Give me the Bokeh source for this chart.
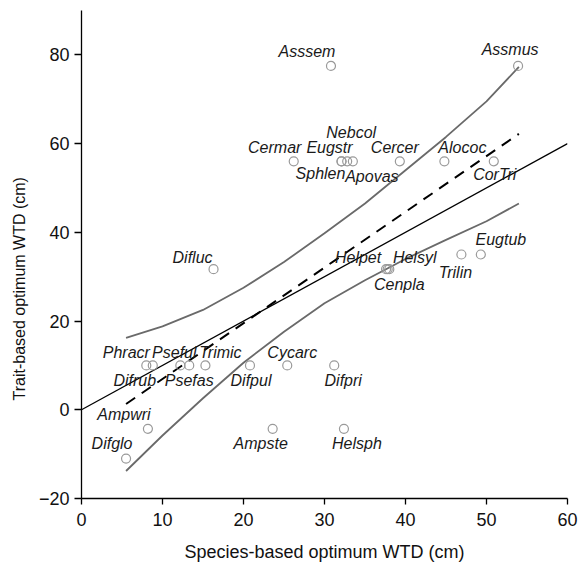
from bokeh.plotting import figure
from bokeh.models import Range1d, FixedTicker, Title, ColumnDataSource
from bokeh.embed import file_html
from bokeh.resources import INLINE
from bokeh.core.properties import value

# ---- data ----
species = ["Asssem", "Assmus", "Cermar", "Eugstr", "Sphlen", "Nebcol", "Apovas",
           "Cercer", "Alococ", "CorTri", "Difluc", "Helpet", "Helsyl", "Cenpla",
           "Trilin", "Eugtub", "Phracr", "Difrub", "Pseful", "Psefas", "Trimic",
           "Difpul", "Cycarc", "Difpri", "Ampwri", "Difglo", "Ampste", "Helsph"]
species_opt = [30.8, 53.9, 26.2, 32.1, 32.1, 32.8, 33.5,
               39.3, 44.8, 50.9, 16.3, 37.6, 37.8, 38.0,
               46.9, 49.3, 8.0, 8.8, 12.2, 13.3, 15.3,
               20.8, 25.4, 31.2, 8.2, 5.5, 23.6, 32.4]
trait_opt = [77.5, 77.5, 56.0, 56.0, 56.0, 56.0, 56.0,
             56.0, 56.0, 56.0, 31.7, 31.7, 31.7, 31.7,
             35.0, 35.0, 10.0, 10.0, 10.0, 10.0, 10.0,
             10.0, 10.0, 10.0, -4.3, -11.0, -4.3, -4.3]

# label placement (screen pixel offsets from each point)
label_dx = [-24, -8, -19, -12, -21, 4, 19,
            -5, 18, 1, -21, -28, 27, 10,
            -6, 20, -20, -18, -6, 0, 15,
            1, 5, 9, -24, -14, -12, 13]
label_dy = [-14, -16, -14, -14, 12, -29, 15,
            -14, -14, 13, -12, -12, -12, 15,
            18, -15, -13, 15, -13, 15, -13,
            15, -13, 15, -14, -15, 15, 15]

one_to_one_x = [0, 60]
one_to_one_y = [0, 60]
fit_x = [5.5, 54.0]
fit_y = [1.3, 62.2]
ci_x = [5.5, 10, 15, 20, 25, 30, 35, 40, 45, 50, 54]
ci_upper = [16.2, 18.8, 22.5, 27.5, 33.3, 39.8, 46.5, 54.0, 61.5, 69.5, 77.3]
ci_lower = [-13.8, -5.8, 2.6, 10.6, 17.6, 24.0, 29.2, 34.0, 38.3, 42.5, 46.5]

x_ticks = [0, 10, 20, 30, 40, 50, 60]
y_ticks = [-20, 0, 20, 40, 60, 80]

FONT = "Liberation Sans"

p = figure(width=579, height=568, output_backend="svg", toolbar_location=None,
           x_range=Range1d(0, 60), y_range=Range1d(-20, 90),
           min_border_left=81, min_border_right=12, min_border_top=10,
           min_border_bottom=70)
p.outline_line_color = None
p.grid.visible = False
p.background_fill_color = "white"
p.border_fill_color = "white"

for ax, ticks, tout, sto in ((p.xaxis[0], x_ticks, 6, 8), (p.yaxis[0], y_ticks, 7, 5)):
    ax.ticker = FixedTicker(ticks=ticks)
    ax.minor_tick_line_color = None
    ax.major_tick_in = 0
    ax.major_tick_out = tout
    ax.axis_line_color = "black"
    ax.axis_line_width = 1.3
    ax.major_tick_line_color = "black"
    ax.major_tick_line_width = 1.3
    ax.major_label_text_font = FONT
    ax.major_label_text_font_size = "18px"
    ax.major_label_text_color = "#111111"
    ax.major_label_standoff = sto

p.xaxis[0].axis_label = "Species-based optimum WTD (cm)"
p.xaxis[0].axis_label_text_font = FONT
p.xaxis[0].axis_label_text_font_size = "18px"
p.xaxis[0].axis_label_text_font_style = "normal"
p.xaxis[0].axis_label_text_color = "#111111"
p.xaxis[0].axis_label_standoff = 13

ytitle = Title(text="Trait-based optimum WTD (cm)", align="left", offset=98,
               text_font=FONT, text_font_size="16px", text_font_style="normal",
               text_color="#111111", standoff=16)
p.add_layout(ytitle, "left")

# confidence bands
p.line(ci_x, ci_upper, line_color="#6a6a6a", line_width=1.8)
p.line(ci_x, ci_lower, line_color="#6a6a6a", line_width=1.8)
# 1:1 line
p.line(one_to_one_x, one_to_one_y, line_color="black", line_width=1.3)
# fitted regression
p.line(fit_x, fit_y, line_color="black", line_width=2, line_dash="11 8")

src = ColumnDataSource(dict(x=species_opt, y=trait_opt, name=species,
                            dx=label_dx, dy=label_dy))
p.scatter("x", "y", source=src, marker="circle", size=9, fill_alpha=0,
          line_color="#9a9a9a", line_width=1.2)
p.text("x", "y", text="name", source=src, x_offset="dx", y_offset="dy",
       text_align="center", text_baseline="middle",
       text_font=value(FONT), text_font_style="italic",
       text_font_size="16px", text_color="#1a1a1a")

open("out.html", "w").write(file_html(p, INLINE))
